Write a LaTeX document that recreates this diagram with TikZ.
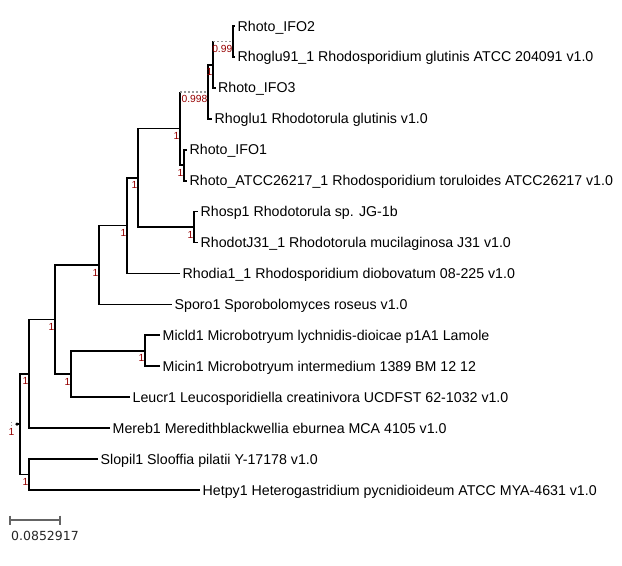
\documentclass[tikz,border=0pt]{standalone}
\usepackage{fontspec}
\setmainfont{Liberation Sans}
\newfontfamily\scalebarfont{DejaVu Sans}
\definecolor{supred}{RGB}{150,0,0}
\definecolor{dotgrey}{RGB}{150,150,150}
\definecolor{bargrey}{RGB}{100,100,100}
\begin{document}
\begin{tikzpicture}[x=1bp,y=-1bp,
  br/.style={line width=1.7bp, black},
  dotbr/.style={line width=1.8bp, dotgrey, dash pattern=on 1.8bp off 2.2bp},
  leaf/.style={anchor=west, inner xsep=2.5bp, inner ysep=0pt, font=\fontsize{14.2bp}{16bp}\selectfont, text height=10.2bp, text depth=0pt},
  supp/.style={anchor=north east, inner sep=0pt, text=supred, font=\fontsize{10.3bp}{11bp}\selectfont, text height=7.4bp, text depth=0pt},
  scalebar/.style={line width=1.5bp, bargrey}
]
\useasboundingbox (0,0) rectangle (622,566);

% leaf line ends
\coordinate (lIFO2) at (235,26.0);
\coordinate (lR91)  at (235,56.9);
\coordinate (lIFO3) at (215.5,87.9);
\coordinate (lRg1)  at (212,118.8);
\coordinate (lIFO1) at (187,149.7);
\coordinate (lATCC) at (187,180.7);
\coordinate (lRsp)  at (198,211.6);
\coordinate (lRJ31) at (198,242.5);
\coordinate (lRdia) at (180,273.4);
\coordinate (lSpo)  at (172,304.4);
\coordinate (lMld)  at (160,335.3);
\coordinate (lMin)  at (160,366.2);
\coordinate (lLeu)  at (130,397.2);
\coordinate (lMer)  at (110,428.1);
\coordinate (lSlo)  at (98,459.0);
\coordinate (lHet)  at (200,489.9);

% leaf labels
\node[leaf] (tIFO2) at (lIFO2) {Rhoto\_IFO2};
\node[leaf] (tR91)  at (lR91)  {Rhoglu91\_1 Rhodosporidium glutinis ATCC 204091 v1.0};
\node[leaf] (tIFO3) at (lIFO3) {Rhoto\_IFO3};
\node[leaf] (tRg1)  at (lRg1)  {Rhoglu1 Rhodotorula glutinis v1.0};
\node[leaf] (tIFO1) at (lIFO1) {Rhoto\_IFO1};
\node[leaf] (tATCC) at (lATCC) {Rhoto\_ATCC26217\_1 Rhodosporidium toruloides ATCC26217 v1.0};
\node[leaf] (tRsp)  at (lRsp)  {Rhosp1 Rhodotorula sp. JG-1b};
\node[leaf] (tRJ31) at (lRJ31) {RhodotJ31\_1 Rhodotorula mucilaginosa J31 v1.0};
\node[leaf] (tRdia) at (lRdia) {Rhodia1\_1 Rhodosporidium diobovatum 08-225 v1.0};
\node[leaf] (tSpo)  at (lSpo)  {Sporo1 Sporobolomyces roseus v1.0};
\node[leaf] (tMld)  at (lMld)  {Micld1 Microbotryum lychnidis-dioicae p1A1 Lamole};
\node[leaf] (tMin)  at (lMin)  {Micin1 Microbotryum intermedium 1389 BM 12 12};
\node[leaf] (tLeu)  at (lLeu)  {Leucr1 Leucosporidiella creatinivora UCDFST 62-1032 v1.0};
\node[leaf] (tMer)  at (lMer)  {Mereb1 Meredithblackwellia eburnea MCA 4105 v1.0};
\node[leaf] (tSlo)  at (lSlo)  {Slopil1 Slooffia pilatii Y-17178 v1.0};
\node[leaf] (tHet)  at (lHet)  {Hetpy1 Heterogastridium pycnidioideum ATCC MYA-4631 v1.0};

% internal nodes
\coordinate (A) at (233,41.45);
\coordinate (B) at (213,64.68);
\coordinate (C) at (208,91.74);
\coordinate (E) at (184,165.2);
\coordinate (D) at (180,128.47);
\coordinate (G) at (194,227.05);
\coordinate (F) at (138,177.76);
\coordinate (H) at (127,225.58);
\coordinate (I) at (99,264.99);
\coordinate (K) at (145,350.75);
\coordinate (L) at (71,373.98);
\coordinate (J) at (55,319.49);
\coordinate (M) at (29,373.8);
\coordinate (N) at (29,474.45);
\coordinate (R) at (20,424.1);
\coordinate (root) at (17,424.1);

% branches
\draw[br] (A) |- (lIFO2);
\draw[br] (A) |- (lR91);
\draw[br] (B) -- (B|-A);
\draw[dotbr] (B|-A) -- (A);
\draw[br] (B) |- (lIFO3);
\draw[br] (C) |- (B);
\draw[br] (C) |- (lRg1);
\draw[br] (D) -- (D|-C);
\draw[dotbr] (D|-C) -- (C);
\draw[br] (D) |- (E);
\draw[br] (E) |- (lIFO1);
\draw[br] (E) |- (lATCC);
\draw[br] (F) |- (D);
\draw[br] (F) |- (G);
\draw[br] (G) |- (lRsp);
\draw[br] (G) |- (lRJ31);
\draw[br] (H) |- (F);
\draw[br] (H) |- (lRdia);
\draw[br] (I) |- (H);
\draw[br] (I) |- (lSpo);
\draw[br] (J) |- (I);
\draw[br] (J) |- (L);
\draw[br] (L) |- (K);
\draw[br] (L) |- (lLeu);
\draw[br] (K) |- (lMld);
\draw[br] (K) |- (lMin);
\draw[br] (M) |- (J);
\draw[br] (M) |- (lMer);
\draw[br] (N) |- (lSlo);
\draw[br] (N) |- (lHet);
\draw[br] (R) |- (M);
\draw[br] (R) |- (N);
\draw[br] (root) -- (R);
\fill[black] (root) circle (1.8bp);
\draw[dotgrey, line width=1bp, dash pattern=on 1bp off 1.5bp] ([yshift=2bp]root-|11,0) -- ([yshift=-2.5bp]root-|11,0);

% support values
\node[supp] (sA) at ([shift={(-0.5,3.5)}]A) {0.99};
\node[supp] (sB) at ([shift={(-0.5,3.5)}]B) {1};
\node[supp] (sC) at ([shift={(-0.5,3.5)}]C) {0.998};
\node[supp] (sD) at ([shift={(-0.5,3.5)}]D) {1};
\node[supp] (sE) at ([shift={(-0.5,3.5)}]E) {1};
\node[supp] (sF) at ([shift={(-0.5,3.5)}]F) {1};
\node[supp] (sG) at ([shift={(-0.5,3.5)}]G) {1};
\node[supp] (sH) at ([shift={(-0.5,3.5)}]H) {1};
\node[supp] (sI) at ([shift={(-0.5,3.5)}]I) {1};
\node[supp] (sJ) at ([shift={(-0.5,3.5)}]J) {1};
\node[supp] (sK) at ([shift={(-0.5,3.5)}]K) {1};
\node[supp] (sL) at ([shift={(-0.5,3.5)}]L) {1};
\node[supp] (sM) at ([shift={(-0.5,3.5)}]M) {1};
\node[supp] (sN) at ([shift={(-0.5,3.5)}]N) {1};
\node[supp] (sR) at ([shift={(-2.5,3.5)}]root) {1};

% scale bar
\coordinate (sb1) at (10,520);
\coordinate (sb2) at (60,520);
\draw[scalebar] (sb1) -- (sb2);
\draw[scalebar] ([yshift=4.5bp]sb1) -- ([yshift=-4.5bp]sb1);
\draw[scalebar] ([yshift=4.5bp]sb2) -- ([yshift=-4.5bp]sb2);
\node[anchor=west, inner sep=0pt, text=black!85, font=\scalebarfont\fontsize{12.5bp}{14bp}\selectfont, text height=9.1bp, text depth=0pt] (sbt) at (11,536) {0.0852917};
\end{tikzpicture}
\end{document}
